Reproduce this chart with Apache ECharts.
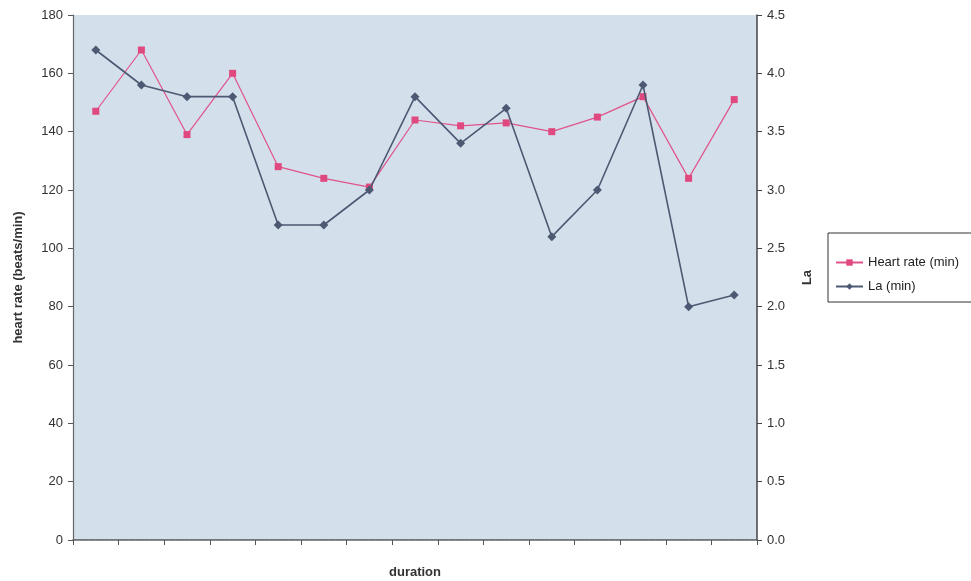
<!DOCTYPE html>
<html>
<head>
<meta charset="utf-8">
<script src="https://cdn.jsdelivr.net/npm/echarts@6/dist/echarts.min.js"></script>
<style>
  html, body { margin: 0; padding: 0; background: #ffffff; }
  #chart { width: 971px; height: 581px; }
</style>
</head>
<body>
<div id="chart"></div>
<script>
// Session segments along the duration axis (unlabelled in the figure)
const durations = ['1', '2', '3', '4', '5', '6', '7', '8', '9', '10', '11', '12', '13', '14', '15'];
// Minimum heart rate per segment (beats/min)
const heartRateMin = [147, 168, 139, 160, 128, 124, 121, 144, 142, 143, 140, 145, 152, 124, 151];
// Minimum lactate per segment
const laMin = [4.2, 3.9, 3.8, 3.8, 2.7, 2.7, 3.0, 3.8, 3.4, 3.7, 2.6, 3.0, 3.9, 2.0, 2.1];

const font = 'Liberation Sans, Arial, sans-serif';
const chart = echarts.init(document.getElementById('chart'));

chart.setOption({
  backgroundColor: '#ffffff',
  animation: false,
  textStyle: { fontFamily: font },
  grid: {
    left: 73, right: 214, top: 15, bottom: 41,
    outerBoundsMode: 'none',
    containLabel: false,
    show: true, backgroundColor: '#d3dfeb', borderWidth: 0
  },
  legend: {
    orient: 'vertical',
    left: 828, top: 233,
    itemWidth: 27, itemHeight: 8, itemGap: 11,
    padding: [23, 24, 9, 7],
    borderColor: '#333333', borderWidth: 1,
    backgroundColor: '#ffffff',
    textStyle: { fontFamily: font, fontSize: 13, color: '#222222' },
    data: ['Heart rate (min)', 'La (min)']
  },
  xAxis: [{
    type: 'category',
    data: durations,
    boundaryGap: true,
    name: 'duration',
    nameLocation: 'middle',
    nameGap: 26,
    nameTextStyle: { fontFamily: font, fontSize: 13, fontWeight: 'bold', color: '#333333' },
    axisLine: { lineStyle: { color: '#555555', width: 1.5 } },
    axisTick: { show: true, length: 5, lineStyle: { color: '#555555' } },
    axisLabel: { show: false },
    splitLine: { show: false }
  }, {
    type: 'category',
    data: durations,
    position: 'top',
    axisLine: { lineStyle: { color: '#8a8f96', width: 1, type: [3, 2] } },
    axisTick: { show: false },
    axisLabel: { show: false },
    splitLine: { show: false }
  }],
  yAxis: [{
    type: 'value',
    min: 0, max: 180, interval: 20,
    name: 'heart rate (beats/min)',
    nameLocation: 'middle',
    nameGap: 48,
    nameRotate: 90,
    nameTextStyle: { fontFamily: font, fontSize: 13, fontWeight: 'bold', color: '#333333' },
    axisLine: { show: true, lineStyle: { color: '#666666', width: 1.2 } },
    axisTick: { show: true, length: 5, lineStyle: { color: '#555555' } },
    axisLabel: { fontFamily: font, fontSize: 13, color: '#333333', margin: 10 },
    splitLine: { show: false }
  }, {
    type: 'value',
    position: 'right',
    min: 0, max: 4.5, interval: 0.5,
    name: 'La',
    nameLocation: 'middle',
    nameGap: 44,
    nameRotate: 90,
    nameTextStyle: { fontFamily: font, fontSize: 13, fontWeight: 'bold', color: '#333333' },
    axisLine: { show: true, lineStyle: { color: '#444444', width: 1.5 } },
    axisTick: { show: true, inside: false, length: 5, lineStyle: { color: '#444444' } },
    axisLabel: {
      fontFamily: font, fontSize: 13, color: '#333333', margin: 10,
      formatter: v => v.toFixed(1)
    },
    splitLine: { show: false }
  }],
  series: [{
    name: 'Heart rate (min)',
    type: 'line',
    xAxisIndex: 0,
    yAxisIndex: 0,
    data: heartRateMin,
    symbol: 'rect',
    symbolSize: 7,
    itemStyle: { color: '#e0497f' },
    lineStyle: { color: '#e0538a', width: 1.2 },
    z: 2
  }, {
    name: 'La (min)',
    type: 'line',
    xAxisIndex: 0,
    yAxisIndex: 1,
    data: laMin,
    symbol: 'diamond',
    symbolSize: 9,
    itemStyle: { color: '#4d5872' },
    lineStyle: { color: '#4d5872', width: 1.6 },
    z: 3
  }]
});
</script>
</body>
</html>
